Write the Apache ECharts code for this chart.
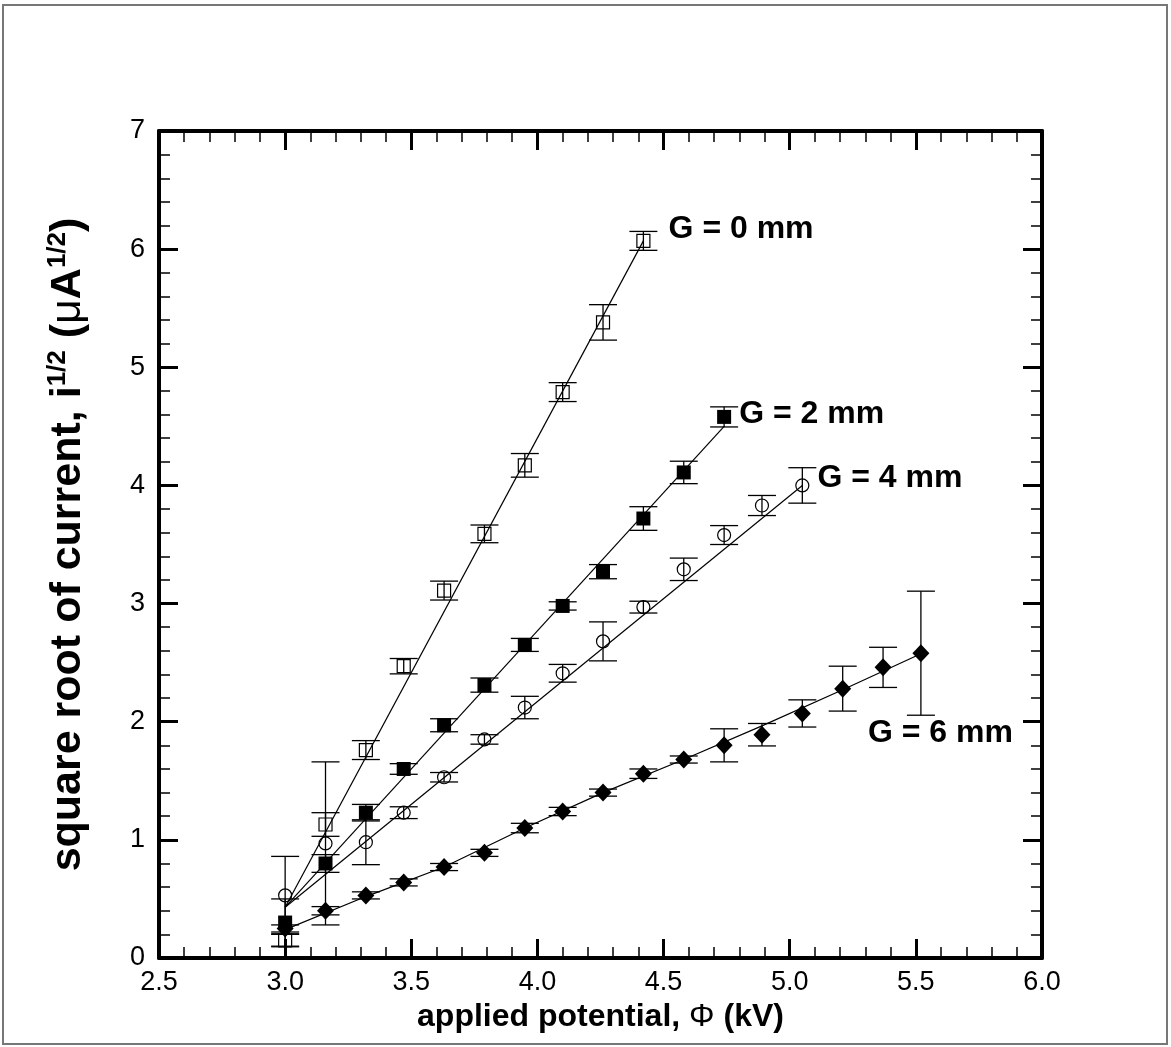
<!DOCTYPE html>
<html>
<head>
<meta charset="utf-8">
<script src="https://cdn.jsdelivr.net/npm/echarts@6/dist/echarts.min.js"></script>
<style>
  html, body { margin: 0; padding: 0; background: #fff; }
  #main { width: 1171px; height: 1047px; }
</style>
</head>
<body>
<div id="main"></div>
<script>
// applied potential (kV) for each measurement
var xs = [3.00, 3.16, 3.32, 3.47, 3.63, 3.79, 3.95, 4.10, 4.26, 4.42, 4.58, 4.74, 4.89, 5.05, 5.21, 5.37, 5.52]

// square root of current, and error half-widths
var g0Y   = [0.15, 1.13, 1.76, 2.47, 3.11, 3.59, 4.17, 4.79, 5.38, 6.07]
var g0Err = [0.055, 0.10, 0.08, 0.065, 0.08, 0.075, 0.10, 0.08, 0.15, 0.08]

var g2Y   = [0.30, 0.80, 1.23, 1.60, 1.97, 2.31, 2.65, 2.98, 3.27, 3.72, 4.11, 4.58]
var g2Err = [0.20, 0.075, 0.07, 0.045, 0.055, 0.06, 0.055, 0.035, 0.06, 0.10, 0.095, 0.085]

var g4Y   = [0.53, 0.97, 0.98, 1.23, 1.53, 1.85, 2.12, 2.41, 2.68, 2.97, 3.29, 3.58, 3.83, 4.00]
var g4Err = [0.33, 0.69, 0.19, 0.05, 0.04, 0.04, 0.095, 0.075, 0.165, 0.05, 0.095, 0.08, 0.085, 0.15]

var g6Y   = [0.25, 0.40, 0.53, 0.64, 0.77, 0.89, 1.10, 1.24, 1.40, 1.56, 1.68, 1.80, 1.89, 2.07, 2.28, 2.46, 2.58]
var g6Err = [0.03, 0.035, 0.03, 0.03, 0.03, 0.03, 0.04, 0.035, 0.03, 0.04, 0.03, 0.14, 0.095, 0.115, 0.19, 0.17, 0.525]

// fitted lines
var fitG0 = [[3.00, 0.43], [4.42, 6.07]]
var fitG2 = [[3.00, 0.43], [4.74, 4.50]]
var fitG4 = [[3.00, 0.43], [5.05, 4.00]]
var fitG6 = [[3.00, 0.24], [3.32, 0.52], [3.63, 0.77], [3.95, 1.10], [4.26, 1.40], [4.58, 1.68], [4.89, 1.965], [5.21, 2.27], [5.52, 2.575]]

// curve labels: text and anchor (left edge, middle)
var labelText = ['G = 0 mm', 'G = 2 mm', 'G = 4 mm', 'G = 6 mm']
var labelPos = [[4.52, 6.17], [4.80, 4.60], [5.11, 4.06], [5.31, 1.90]]

var FONT = 'Liberation Sans'

function pts(ys, errs) {
    return ys.map(function (y, i) { return [xs[i], y, errs[i]] })
}

function errorBars(ys, errs) {
    return {
        type: 'custom',
        data: pts(ys, errs),
        z: 3,
        renderItem: function (params, api) {
            var x = api.value(0), y = api.value(1), e = api.value(2)
            var top = api.coord([x, y + e])
            var bot = api.coord([x, y - e])
            var hw = 14
            var style = { stroke: '#000', lineWidth: 1.3 }
            return {
                type: 'group',
                children: [
                    { type: 'line', shape: { x1: top[0], y1: top[1], x2: bot[0], y2: bot[1] }, style: style },
                    { type: 'line', shape: { x1: top[0] - hw, y1: top[1], x2: top[0] + hw, y2: top[1] }, style: style },
                    { type: 'line', shape: { x1: bot[0] - hw, y1: bot[1], x2: bot[0] + hw, y2: bot[1] }, style: style }
                ]
            }
        }
    }
}

function markers(ys, errs, symbol, size, filled) {
    return {
        type: 'scatter',
        data: pts(ys, errs),
        symbol: symbol,
        symbolSize: size,
        z: 4,
        itemStyle: {
            color: filled ? '#000' : 'rgba(0,0,0,0)',
            borderColor: '#000',
            borderWidth: filled ? 0 : 1.2,
            opacity: 1
        }
    }
}

function fitLine(d) {
    return {
        type: 'line',
        data: d,
        showSymbol: false,
        symbol: 'none',
        z: 2,
        lineStyle: { color: '#000', width: 1.2 }
    }
}

var chart = echarts.init(document.getElementById('main'))

var axisBase = {
    min: 0, max: 7, interval: 1,
    axisLine: { show: true, onZero: false, lineStyle: { color: '#000', width: 4 } },
    axisTick: { show: true, inside: true, length: 19, lineStyle: { color: '#000', width: 3 } },
    minorTick: { show: true, splitNumber: 5, length: 11, lineStyle: { color: '#000', width: 1.5 } },
    splitLine: { show: false }
}

var option = {
    backgroundColor: '#fff',
    animation: false,
    textStyle: { fontFamily: FONT },
    grid: { left: 159, right: 129, top: 131, bottom: 89 },
    xAxis: [
        Object.assign({}, axisBase, {
            type: 'value', position: 'bottom', min: 2.5, max: 6.0, interval: 0.5,
            axisLabel: {
                fontFamily: FONT, fontSize: 27, color: '#000', margin: 11,
                formatter: function (v) { return v.toFixed(1) }
            },
            name: 'applied potential, {m|Φ} (kV)',
            nameLocation: 'middle',
            nameGap: 36,
            nameTextStyle: {
                fontFamily: FONT, fontSize: 32, fontWeight: 'bold', color: '#000',
                rich: { m: { fontFamily: FONT, fontSize: 32, fontWeight: 'normal', color: '#000' } }
            }
        }),
        Object.assign({}, axisBase, {
            type: 'value', position: 'top', min: 2.5, max: 6.0, interval: 0.5,
            axisLabel: { show: false }
        })
    ],
    yAxis: [
        Object.assign({}, axisBase, {
            type: 'value', position: 'left',
            axisLabel: { fontFamily: FONT, fontSize: 27, color: '#000', margin: 14 },
            name: '{b|square root of current, i}{s|1/2}{b| (}{m|μ}{b|A}{s|1/2}{b|)}',
            nameLocation: 'middle',
            nameGap: 69,
            nameRotate: 90,
            nameTextStyle: {
                rich: {
                    b: { fontFamily: FONT, fontSize: 43, fontWeight: 'bold', color: '#000', lineHeight: 50, verticalAlign: 'bottom' },
                    m: { fontFamily: FONT, fontSize: 43, fontWeight: 'normal', color: '#000', lineHeight: 50, verticalAlign: 'bottom' },
                    s: { fontFamily: FONT, fontSize: 26, fontWeight: 'bold', color: '#000', lineHeight: 50, verticalAlign: 'bottom', padding: [0, 0, 19, 0] }
                }
            }
        }),
        Object.assign({}, axisBase, {
            type: 'value', position: 'right',
            axisLabel: { show: false }
        })
    ],
    graphic: [{
        type: 'rect',
        shape: { x: 3, y: 5, width: 1164, height: 1039 },
        style: { fill: 'none', stroke: '#777', lineWidth: 2 },
        z: -1
    }],
    series: [
        fitLine(fitG0), fitLine(fitG2), fitLine(fitG4), fitLine(fitG6),
        errorBars(g0Y, g0Err), errorBars(g2Y, g2Err), errorBars(g4Y, g4Err), errorBars(g6Y, g6Err),
        markers(g0Y, g0Err, 'rect', 13, false),
        markers(g2Y, g2Err, 'rect', 14, true),
        markers(g4Y, g4Err, 'circle', 13, false),
        markers(g6Y, g6Err, 'diamond', [17, 18], true),
        {
            type: 'scatter',
            symbolSize: 0,
            z: 5,
            data: labelPos.map(function (p, i) { return { value: p, name: labelText[i] } }),
            label: {
                show: true,
                position: 'right',
                distance: 0,
                formatter: function (p) { return p.name },
                fontFamily: FONT, fontSize: 32, fontWeight: 'bold', color: '#000',
                opacity: 1, textBorderWidth: 0
            }
        }
    ]
}

chart.setOption(option)
</script>
</body>
</html>
